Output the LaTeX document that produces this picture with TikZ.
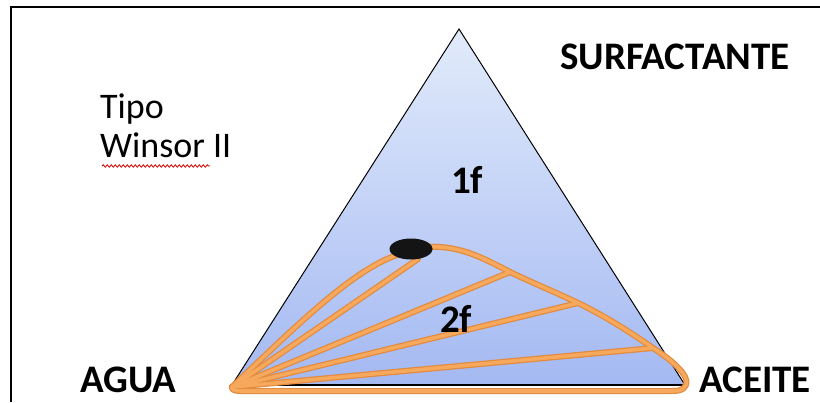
\documentclass[tikz,border=0pt]{standalone}
\usepackage{fontspec}
\setmainfont{Carlito}
\usetikzlibrary{shapes.geometric,decorations.pathmorphing}
\definecolor{tieedge}{RGB}{226,138,62}
\definecolor{tieorange}{RGB}{246,168,92}
\definecolor{triTop}{RGB}{226,235,251}
\definecolor{triBot}{RGB}{164,185,242}
\begin{document}
\begin{tikzpicture}[x=1pt,y=-1pt,
  tieout/.style={draw=tieedge, line width=6pt, line cap=round, line join=round},
  tie/.style={draw=tieorange, line width=3.6pt, line cap=round, line join=round},
  lbl/.style={font=\bfseries\fontsize{39}{41}\selectfont, inner sep=0pt, anchor=base west},
  reg/.style={font=\fontsize{36}{38}\selectfont, inner sep=0pt, anchor=base west}]
\useasboundingbox (0,0) rectangle (820,402);
\fill[white] (0,0) rectangle (820,402);
\draw[line width=2pt] (11,402) -- (11,7) -- (820,7);
% triangle
\coordinate (A) at (232,385);
\coordinate (S) at (459,29);
\coordinate (O) at (685,385);
\shade[top color=triTop, bottom color=triBot] (A) -- (S) -- (O) -- cycle;
\draw[line width=1pt] (A) -- (S) -- (O);
\draw[line width=1.6pt] (A) -- (O);
% tie lines and binodal
\coordinate (A2) at (232,387);
\coordinate (T0) at (400,254);
\coordinate (T1) at (418,259);
\coordinate (T2) at (510,272);
\coordinate (T3) at (578,303);
\coordinate (T4) at (653,348);
\foreach \st in {tieout,tie}{
\draw[\st] (A2) .. controls (300,322) and (355,268) .. (T0);
\draw[\st] (A2) -- (T1);
\draw[\st] (A2) -- (T2);
\draw[\st] (A2) -- (T3);
\draw[\st] (A2) -- (T4);
\draw[\st] (428,247) .. controls (460,245) and (485,259) .. (T2)
  .. controls (535,284) and (555,292) .. (T3)
  .. controls (605,316) and (630,332) .. (T4)
  .. controls (672,360) and (690,376) .. (686,385)
  .. controls (683,391) and (678,391) .. (670,391) -- (240,391)
  .. controls (234,391) and (231,389) .. (A2);
}
\node[ellipse, fill=black!92, minimum width=43pt, minimum height=21pt, inner sep=0pt] (P) at (411,249) {};
% labels
\node[lbl] (surf) at (560,69) {SURFACTANTE};
\node[lbl] (agua) at (80,392) {AGUA};
\node[lbl] (aceite) at (699,392) {ACEITE};
\node[lbl] (f1) at (451,193) {1f};
\node[lbl] (f2) at (440,332) {2f};
\node[reg] (tipo) at (100,118) {Tipo};
\node[reg] (winsor) at (100,157) {Winsor II};
\draw[red!85!black, line width=0.8pt, decorate, decoration={snake, amplitude=1.2pt, segment length=4pt}] (102,166) -- (210,166);
\end{tikzpicture}
\end{document}
